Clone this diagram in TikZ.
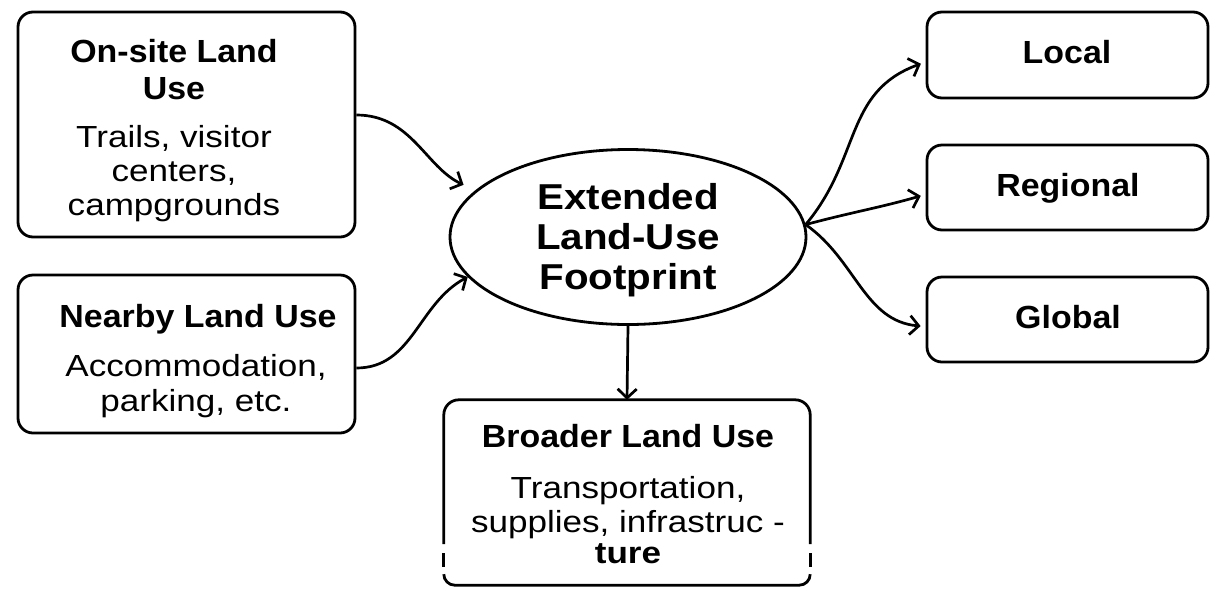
\documentclass[tikz,border=0pt]{standalone}
\usepackage{fontspec}
\setmainfont{Liberation Sans}
\newfontfamily\bodyfont{Liberation Sans}[FakeStretch=1.15]
\newfontfamily\ttlfont{Liberation Sans}[FakeStretch=1.06]
\newfontfamily\ellfont{Liberation Sans}[FakeStretch=1.12]
\usetikzlibrary{arrows.meta,shapes.geometric,calc}
\newcommand{\mlines}[1]{\begin{tabular}[t]{@{}c@{}}#1\end{tabular}}
\tikzset{
  box/.style={draw, line width=2.8pt, rounded corners=15pt, inner sep=0pt},
  edge/.style={line width=2.8pt},
  ttl/.style={font=\ttlfont\bfseries\fontsize{32}{37}\selectfont, anchor=base, inner sep=0pt},
  bdy/.style={font=\bodyfont\fontsize{30.5}{34}\selectfont, anchor=base, inner sep=0pt},
  elltxt/.style={font=\ellfont\bfseries\fontsize{36}{40}\selectfont, anchor=base, inner sep=0pt},
  conn/.style={line width=2.7pt, -{Straight Barb[length=9pt,width=19pt,line width=2.7pt]}},
}
\begin{document}
\begin{tikzpicture}[x=1pt,y=1pt]
\useasboundingbox (0,0) rectangle (1225,-606);

% left boxes
\node[box, minimum width=337pt, minimum height=225pt] (b1) at (186.5,-124.5) {};
\node[ttl] (b1t) at (174,-62) {\mlines{On-site Land\\Use}};
\node[bdy] (b1b) at (174,-147) {\mlines{Trails, visitor\\centers,\\campgrounds}};

\node[box, minimum width=337pt, minimum height=158pt] (b2) at (186.5,-354) {};
\node[ttl] (b2t) at (198,-327) {Nearby Land Use};
\node[bdy, font=\bodyfont\fontsize{30.5}{35}\selectfont] (b2b) at (196,-376) {\mlines{Accommodation,\\parking, etc.}};

% central ellipse
\node[ellipse, draw, line width=2.8pt, minimum width=356pt, minimum height=175pt, inner sep=0pt] (ell) at (628,-237) {};
\node[elltxt] (ellt) at (628,-209) {\mlines{Extended\\Land-Use\\Footprint}};

% right boxes
\node[box, minimum width=281pt, minimum height=86pt] (loc) at (1067.5,-55) {};
\node[ttl] (loct) at (1067,-63) {Local};
\node[box, minimum width=281pt, minimum height=85pt] (reg) at (1067.5,-187.5) {};
\node[ttl] (regt) at (1068,-196) {Regional};
\node[box, minimum width=281pt, minimum height=85pt] (glo) at (1067.5,-319.5) {};
\node[ttl] (glot) at (1068,-328) {Global};

% bottom box (border with small breaks near the bottom)
\node[minimum width=366pt, minimum height=185pt, inner sep=0pt] (broad) at (627,-492.5) {};
\draw[edge, rounded corners=15pt] ([yshift=41pt]broad.south west) -- (broad.north west) -- (broad.north east) -- ([yshift=41pt]broad.south east);
\draw[edge] ([yshift=32pt]broad.south west) -- ([yshift=18pt]broad.south west);
\draw[edge] ([yshift=32pt]broad.south east) -- ([yshift=18pt]broad.south east);
\draw[edge, rounded corners=11pt] ([yshift=11pt]broad.south west) -- (broad.south west) -- (broad.south east) -- ([yshift=11pt]broad.south east);
\node[ttl] (broadt) at (628,-447) {Broader Land Use};
\node[bdy] (broadb) at (628,-498) {\mlines{Transportation,\\supplies, infrastruc -\\[-3pt]\textbf{ture}}};

% connectors
\draw[conn, shorten >=13pt] ([yshift=9.5pt]b1.east) to[out=0, in=155] (ell.163);
\draw[conn] ([yshift=-14pt]b2.east) to[out=0, in=208] (ell.194);
\draw[conn, shorten >=5pt] (ell.4) to[out=50, in=200, looseness=1.1] ([yshift=-7pt]loc.west);
\draw[conn, shorten >=5pt] (ell.4) to[out=15, in=196] ([yshift=-7pt]reg.west);
\draw[conn, shorten >=5pt] (ell.4) to[out=-35, in=175] ([yshift=-7pt]glo.west);
\draw[conn] (ell.south) -- (broad.north);
\end{tikzpicture}
\end{document}
